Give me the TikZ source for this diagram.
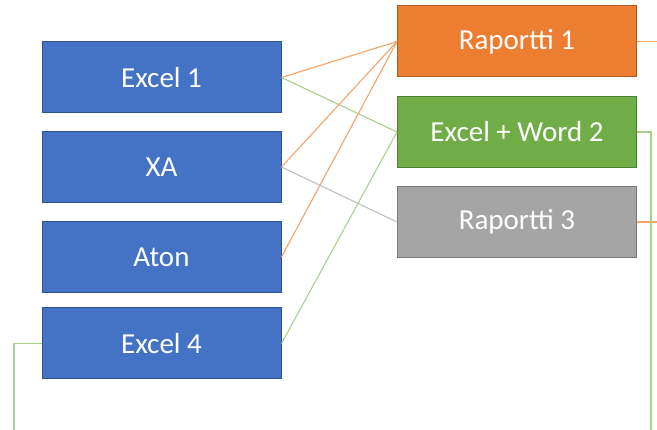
\documentclass[tikz,border=0pt]{standalone}
\usepackage{fontspec}
\setmainfont{Carlito}
\definecolor{bfill}{HTML}{4472C4}\definecolor{bdraw}{HTML}{2F528F}
\definecolor{ofill}{HTML}{ED7D31}\definecolor{odraw}{HTML}{AE5A21}
\definecolor{gfill}{HTML}{70AD47}\definecolor{gdraw}{HTML}{507E32}
\definecolor{yfill}{HTML}{A5A5A5}\definecolor{ydraw}{HTML}{787878}
\definecolor{oline}{HTML}{F4A46A}\definecolor{gline}{HTML}{A9D18E}\definecolor{yline}{HTML}{C0C0C0}
\tikzset{
  box/.style={rectangle, minimum width=239pt, minimum height=71pt, inner sep=0pt, line width=1pt, text=white, font=\fontsize{29}{32}\selectfont},
  bluebox/.style={box, fill=bfill, draw=bdraw},
  orangebox/.style={box, fill=ofill, draw=odraw},
  greenbox/.style={box, fill=gfill, draw=gdraw},
  graybox/.style={box, fill=yfill, draw=ydraw},
  oconn/.style={draw=oline, line width=1.1pt},
  gconn/.style={draw=gline, line width=1.1pt},
  yconn/.style={draw=yline, line width=1.1pt},
}
\begin{document}
\begin{tikzpicture}[x=1pt,y=-1pt]
\useasboundingbox[fill=white] (0,0) rectangle (657,430);
\node[bluebox] (e1) at (161.5,77.5) {Excel 1};
\node[bluebox] (xa) at (161.5,167) {XA};
\node[bluebox] (aton) at (161.5,257) {Aton};
\node[bluebox] (e4) at (161.5,343.5) {Excel 4};
\node[orangebox] (r1) at (517,41.5) {Raportti 1};
\node[greenbox] (ew) at (517,132) {Excel + Word 2};
\node[graybox] (r3) at (517,222) {Raportti 3};
\coordinate (r1out) at (657,41.5);
\coordinate (r3out) at (657,222);
\coordinate (ewc) at (651,132);
\coordinate (ewend) at (651,430);
\coordinate (e4c) at (14,343.5);
\coordinate (e4end) at (14,430);
\draw[oconn] (e1.east) -- (r1.west);
\draw[gconn] (e1.east) -- (ew.west);
\draw[oconn] (xa.east) -- (r1.west);
\draw[yconn] (xa.east) -- (r3.west);
\draw[oconn] (aton.east) -- (r1.west);
\draw[gconn] (e4.east) -- (ew.west);
\draw[oconn] (r1.east) -- (r1out);
\draw[oconn] (r3.east) -- (r3out);
\draw[gconn] (ew.east) -- (ewc) -- (ewend);
\draw[gconn] (e4.west) -- (e4c) -- (e4end);
\end{tikzpicture}
\end{document}
